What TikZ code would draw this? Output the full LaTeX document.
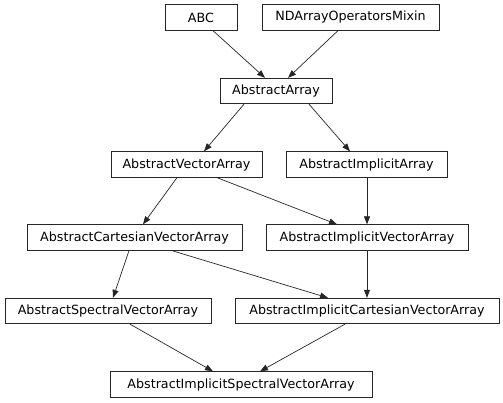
\documentclass[tikz,border=0pt]{standalone}
\usepackage{fontspec}
\setmainfont{DejaVu Sans}
\usetikzlibrary{arrows.meta}
\begin{document}
\begin{tikzpicture}[x=1pt,y=-1pt,
  cls/.style={draw=black!85,line width=0.8pt,minimum height=25.5pt,inner sep=0pt,
    font=\fontsize{12.7}{14}\selectfont,text=black},
  edge/.style={draw=black!85,line width=0.7pt,-{Triangle[length=8pt,width=6pt]}}]
\useasboundingbox (0,0) rectangle (503,403);
\node[cls,minimum width=72pt]  (abc)   at (201,17.5)  {ABC};
\node[cls,minimum width=177pt] (nd)    at (350.5,17.5) {NDArrayOperatorsMixin};
\node[cls,minimum width=112pt] (aa)    at (276,91)    {AbstractArray};
\node[cls,minimum width=151pt] (ava)   at (186.5,164.5) {AbstractVectorArray};
\node[cls,minimum width=161pt] (aia)   at (366.5,164.5) {AbstractImplicitArray};
\node[cls,minimum width=215pt] (acva)  at (134.5,237.5) {AbstractCartesianVectorArray};
\node[cls,minimum width=202pt] (aiva)  at (367,237.5) {AbstractImplicitVectorArray};
\node[cls,minimum width=206pt] (asva)  at (108,311)   {AbstractSpectralVectorArray};
\node[cls,minimum width=264pt] (aicva) at (367,311)   {AbstractImplicitCartesianVectorArray};
\node[cls,minimum width=262pt] (aisva) at (241,384.5) {AbstractImplicitSpectralVectorArray};
\draw[edge] ([xshift=12pt]abc.south) -- ([xshift=-11pt]aa.north);
\draw[edge] ([xshift=-12.5pt]nd.south) -- ([xshift=12pt]aa.north);
\draw[edge] ([xshift=-32pt]aa.south) -- ([xshift=17.5pt]ava.north);
\draw[edge] ([xshift=33pt]aa.south) -- ([xshift=-16.5pt]aia.north);
\draw[edge] ([xshift=-9.5pt]ava.south) -- ([xshift=8.5pt]acva.north);
\draw[edge] ([xshift=30.5pt]ava.south) -- ([xshift=-30pt]aiva.north);
\draw[edge] ([xshift=0.5pt]aia.south) -- (aiva.north);
\draw[edge] ([xshift=-5.5pt]acva.south) -- ([xshift=5pt]asva.north);
\draw[edge] ([xshift=37.5pt]acva.south) -- ([xshift=-39pt]aicva.north);
\draw[edge] (aiva.south) -- (aicva.north);
\draw[edge] ([xshift=22pt]asva.south) -- ([xshift=-28pt]aisva.north);
\draw[edge] ([xshift=-22pt]aicva.south) -- ([xshift=19pt]aisva.north);
\end{tikzpicture}
\end{document}
